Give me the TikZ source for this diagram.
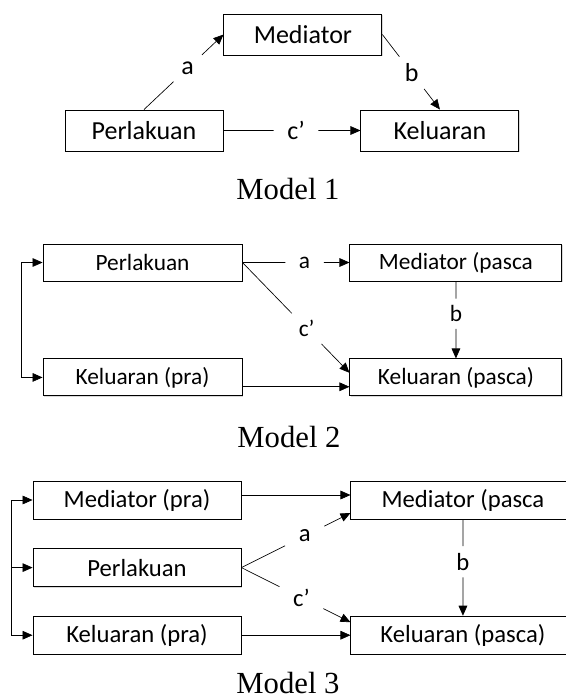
\documentclass[tikz,border=0pt]{standalone}
\usepackage{fontspec}
\setmainfont{Liberation Serif}
\newfontfamily\calib{Carlito}
\usetikzlibrary{positioning, calc, arrows.meta, shadows}
\newcommand{\cpr}{c’}
\newcommand{\boxsize}[1]{\calib\fontsize{#1}{#1}\selectfont}
\tikzset{
	box/.style 2 args={draw, fill=white, line width=0.7pt, minimum width=#1, minimum height=#2, drop shadow={shadow xshift=0.9pt, shadow yshift=-0.9pt, opacity=0.3}},
	arr/.style={-{Triangle[length=7.5pt, width=6.5pt]}},
	lab/.style={inner xsep=10pt, inner ysep=5pt},
	modeltitle/.style={font=\fontsize{23}{26}\selectfont}
}

\begin{document}
\begin{tikzpicture}[x=0.75pt, y=-0.75pt, line width=0.5pt]
	\useasboundingbox (0,0) rectangle (565,699);
	
	\begin{scope}[font=\boxsize{19.5}]
		\node[box={118.5pt}{30.75pt}] (p1) at (144,130.5) {Perlakuan};
		\node[box={118.5pt}{30.75pt}, above right=40.5pt and 0pt of p1] (m1) {Mediator};
		\node[box={118.5pt}{30.75pt}, right=102.75pt of p1] (k1) {Keluaran};
		
		\node[lab] (a1) at ($(p1.north)!0.55!(m1.west)$) {a};
		\node[lab] (b1) at ($(m1.east)!0.51!(k1.north)$) {b};
		\node[lab] (c1) at ($(p1.east)!0.53!(k1.west)$) {\cpr};
		
		\draw (p1.north) -- (a1);
		\draw[arr] (a1) -- (m1.west);
		\draw (m1.east) -- (b1);
		\draw[arr] (b1) -- (k1.north);
		\draw (p1) -- (c1);
		\draw[arr] (c1) -- (k1);
	\end{scope}
	\node[modeltitle] (t1) at (288,189) {Model 1};
	
	\begin{scope}[font=\boxsize{17.5}]
		\node[box={149.25pt}{27.75pt}] (p2) at (142.5,262.5) {Perlakuan};
		\node[box={159pt}{27.75pt}, right=80.25pt of p2] (m2) {Mediator (pasca};
		\node[box={149.25pt}{27.75pt}, below=57.75pt of p2] (k2pra) {Keluaran (pra)};
		\node[box={159pt}{27.75pt}, below=57.75pt of m2] (k2pasca) {Keluaran (pasca)};
		
		\coordinate (br2) at ($(p2.west)!0.5!(k2pra.west)+(-21,0)$);
		\coordinate (c2e) at ([yshift=3.5pt]k2pasca.west);
		\node[lab] (a2) at ($(p2.east)!0.58!(m2.west)$) {a};
		\node[lab] (b2) at ($(m2.south)!0.42!(k2pasca.north)$) {b};
		\node[lab] (c2) at ($(p2.east)!0.6!(c2e)$) {\cpr};
		
		\draw[arr] (br2) |- (p2);
		\draw[arr] (br2) |- (k2pra);
		\draw (p2.east) -- (a2);
		\draw[arr] (a2) -- (m2);
		\draw (m2) -- (b2);
		\draw[arr] (b2) -- (k2pasca);
		\draw (p2.east) -- (c2);
		\draw[arr] (c2) -- (c2e);
		\draw[arr] ([yshift=-7pt]k2pra.east) -- ([yshift=-7pt]k2pasca.west);
	\end{scope}
	\node[modeltitle] (t2) at (289,437) {Model 2};
	
	\begin{scope}[font=\boxsize{18.5}]
		\node[box={156pt}{28.5pt}] (m3pra) at (137,500) {Mediator (pra)};
		\node[box={156pt}{28.5pt}, below=21.5pt of m3pra] (p3) {Perlakuan};
		\node[box={156pt}{28.5pt}, below=21.5pt of p3] (k3pra) {Keluaran (pra)};
		\node[box={168pt}{28.5pt}, right=81.75pt of m3pra] (m3pasca) {Mediator (pasca};
		\node[box={168pt}{28.5pt}, right=81.75pt of k3pra] (k3pasca) {Keluaran (pasca)};
		
		\coordinate (br3) at ($(p3.west)+(-21,0)$);
		\coordinate (a3e) at ([yshift=-9.75pt]m3pasca.west);
		\coordinate (c3e) at ([yshift=9.75pt]k3pasca.west);
		\node[lab] (a3) at ($(p3.east)!0.58!(a3e)$) {a};
		\node[lab] (b3) at ($(m3pasca.south)!0.44!(k3pasca.north)$) {b};
		\node[lab] (c3) at ($(p3.east)!0.55!(c3e)$) {\cpr};
		
		\draw[arr] (br3) |- (m3pra);
		\draw[arr] (br3) -- (p3);
		\draw[arr] (br3) |- (k3pra);
		\draw[arr] ([yshift=3.75pt]m3pra.east) -- ([yshift=3.75pt]m3pasca.west);
		\draw[arr] (k3pra) -- (k3pasca);
		\draw (p3.east) -- (a3);
		\draw[arr] (a3) -- (a3e);
		\draw (p3.east) -- (c3);
		\draw[arr] (c3) -- (c3e);
		\draw (m3pasca) -- (b3);
		\draw[arr] (b3) -- (k3pasca);
	\end{scope}
	\node[modeltitle] (t3) at (288,683) {Model 3};
\end{tikzpicture}
\end{document}
